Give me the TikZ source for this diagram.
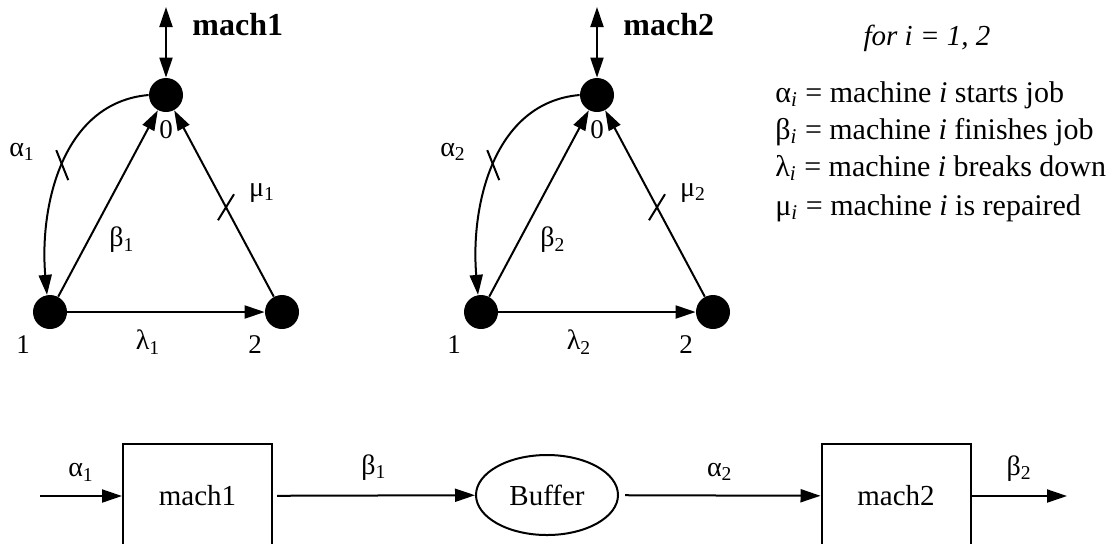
\documentclass[tikz,border=0pt]{standalone}
\usepackage{fontspec}
\setmainfont{Liberation Serif}
\usetikzlibrary{positioning, arrows.meta, shapes.geometric}
\tikzset{
  state/.style={circle, fill=black, minimum size=17pt, inner sep=0pt},
  numlbl/.style={font=\fontsize{13.5}{15}\selectfont, inner sep=1pt},
  evlbl/.style={font=\fontsize{14}{16}\selectfont, inner sep=1pt},
  machlbl/.style={font=\fontsize{16}{18}\selectfont\bfseries, inner sep=1pt},
  mbox/.style={rectangle, draw, line width=1pt, minimum width=74.5pt,
               minimum height=52pt, font=\fontsize{14.5}{17}\selectfont},
  buf/.style={ellipse, draw, line width=1pt, minimum width=71pt,
              minimum height=40pt, inner sep=0pt, font=\fontsize{14.5}{17}\selectfont},
  deftext/.style={anchor=west, font=\fontsize{15}{17}\selectfont, inner sep=0pt},
  arr/.style={-{Triangle[length=10pt, width=6.5pt]}, line width=1pt},
  darr/.style={{Triangle[length=10pt, width=6.5pt]}-{Triangle[length=10pt, width=6.5pt]},
               line width=1pt},
  tickmark/.style={line width=1pt},
}

\begin{document}
\begin{tikzpicture}[x=0.5pt, y=-0.5pt]
  \clip (0,0) rectangle (1118,543);

  % machine 1 states
  \node[state] (m1s0) at (166,95) {};
  \node[state] (m1s1) at (50,312) {};
  \node[state] (m1s2) at (282,312) {};
  \coordinate (m1top) at (166,7);
  \node[numlbl, below=3pt of m1s0] (m1n0) {0};
  \node[numlbl] (m1n1) at (23,345) {1};
  \node[numlbl] (m1n2) at (255,345) {2};
  \node[machlbl, anchor=west] (m1name) at (190,25) {mach1};

  \draw[darr] (m1top) -- (m1s0);
  \draw[arr] (m1s0.west) to[out=185, in=95] coordinate[pos=0.5] (m1atk) (m1s1.100);
  \draw[arr] (m1s1) -- (m1s0);
  \draw[arr] (m1s1) -- (m1s2);
  \draw[arr] (m1s2) -- coordinate[pos=0.48] (m1mtk) (m1s0);
  \draw[tickmark] ([shift={(-6,-15)}]m1atk) -- ([shift={(6,15)}]m1atk);
  \draw[tickmark] ([shift={(-8,13)}]m1mtk) -- ([shift={(8,-13)}]m1mtk);

  \node[evlbl] (m1a) at (22,152) {α\textsubscript{1}};
  \node[evlbl] (m1b) at (122,240) {β\textsubscript{1}};
  \node[evlbl] (m1m) at (262,193) {μ\textsubscript{1}};
  \node[evlbl] (m1l) at (148,342) {λ\textsubscript{1}};

  % machine 2 states
  \node[state] (m2s0) at (597,95) {};
  \node[state] (m2s1) at (481,312) {};
  \node[state] (m2s2) at (713,312) {};
  \coordinate (m2top) at (597,7);
  \node[numlbl, below=3pt of m2s0] (m2n0) {0};
  \node[numlbl] (m2n1) at (454,345) {1};
  \node[numlbl] (m2n2) at (686,345) {2};
  \node[machlbl, anchor=west] (m2name) at (621,25) {mach2};

  \draw[darr] (m2top) -- (m2s0);
  \draw[arr] (m2s0.west) to[out=185, in=95] coordinate[pos=0.5] (m2atk) (m2s1.100);
  \draw[arr] (m2s1) -- (m2s0);
  \draw[arr] (m2s1) -- (m2s2);
  \draw[arr] (m2s2) -- coordinate[pos=0.48] (m2mtk) (m2s0);
  \draw[tickmark] ([shift={(-6,-15)}]m2atk) -- ([shift={(6,15)}]m2atk);
  \draw[tickmark] ([shift={(-8,13)}]m2mtk) -- ([shift={(8,-13)}]m2mtk);

  \node[evlbl] (m2a) at (453,152) {α\textsubscript{2}};
  \node[evlbl] (m2b) at (553,240) {β\textsubscript{2}};
  \node[evlbl] (m2m) at (693,193) {μ\textsubscript{2}};
  \node[evlbl] (m2l) at (579,342) {λ\textsubscript{2}};

  % legend
  \node[font=\fontsize{14.5}{17}\selectfont\itshape] (forall) at (927,38) {for i = 1, 2};
  \node[deftext] (defa) at (775,95)  {α\textsubscript{\textit{i}} = machine \textit{i} starts job};
  \node[deftext] (defb) at (775,132) {β\textsubscript{\textit{i}} = machine \textit{i} finishes job};
  \node[deftext] (defl) at (775,168) {λ\textsubscript{\textit{i}} = machine \textit{i} breaks down};
  \node[deftext] (defm) at (775,208) {μ\textsubscript{\textit{i}} = machine \textit{i} is repaired};

  % production line
  \coordinate (inpt) at (40,496);
  \node[mbox] (box1) at (197.5,496) {mach1};
  \node[buf] (buffer) at (547,495) {Buffer};
  \node[mbox] (box2) at (896,496) {mach2};
  \coordinate (outpt) at (1067,496);

  \draw[arr] (inpt) -- node[evlbl, above=6pt] (la1) {α\textsubscript{1}} (box1);
  \draw[arr, shorten <=2pt] (box1) -- node[evlbl, above=6pt] (lb1) {β\textsubscript{1}} (buffer);
  \draw[arr, shorten <=3pt] (buffer) -- node[evlbl, above=6pt] (la2) {α\textsubscript{2}} (box2);
  \draw[arr] (box2) -- node[evlbl, above=6pt] (lb2) {β\textsubscript{2}} (outpt);
\end{tikzpicture}
\end{document}
